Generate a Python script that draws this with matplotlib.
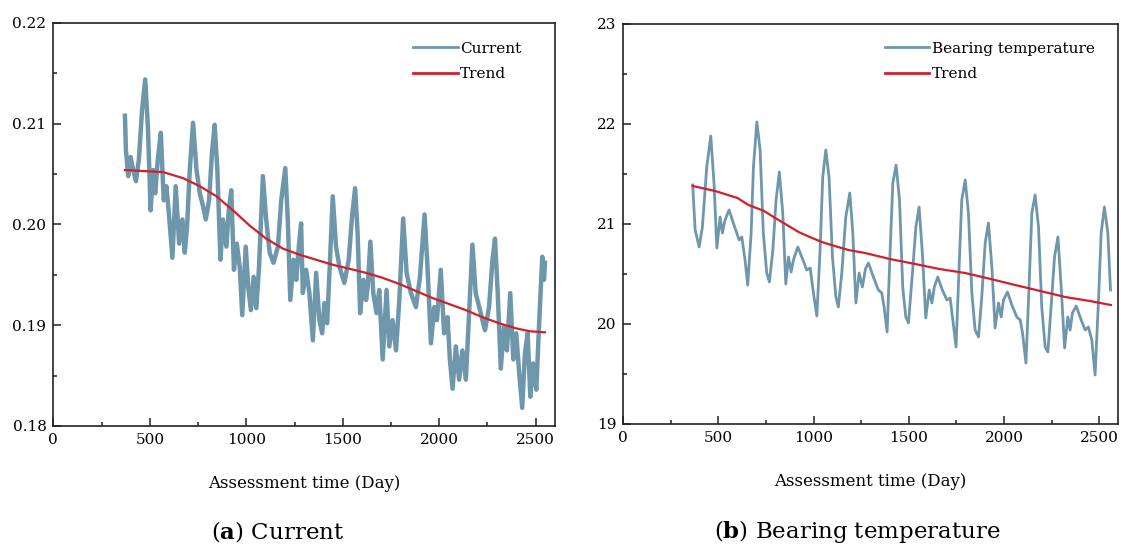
import matplotlib
matplotlib.use("Agg")
import matplotlib.pyplot as plt
from matplotlib.ticker import MultipleLocator

plt.rcParams["font.family"] = ["DejaVu Serif"]
plt.rcParams["mathtext.fontset"] = "custom"
plt.rcParams["mathtext.rm"] = "DejaVu Serif"
plt.rcParams["mathtext.bf"] = "DejaVu Serif:bold"

SIGNAL = "#6f97ab"
TREND = "#d0212a"

# (a) current signal
cur_day = [371, 376, 388, 400, 414, 428, 443, 460, 476, 490, 504, 517, 528, 541, 557,
           572, 586, 600, 617, 634, 652, 669, 681, 693, 707, 724, 742, 759, 776, 790,
           807, 822, 836, 850, 866, 879, 897, 909, 922, 936, 951, 966, 979, 997, 1010,
           1024, 1038, 1052, 1066, 1086, 1103, 1121, 1141, 1164, 1181, 1202, 1215, 1228,
           1245, 1259, 1272, 1284, 1293, 1310, 1327, 1345, 1362, 1379, 1393, 1405, 1419,
           1434, 1448, 1465, 1483, 1508, 1531, 1548, 1564, 1577, 1590, 1607, 1621, 1629,
           1643, 1658, 1675, 1689, 1707, 1727, 1741, 1758, 1776, 1793, 1813, 1831, 1853,
           1879, 1900, 1924, 1939, 1957, 1974, 1988, 2008, 2025, 2043, 2055, 2069, 2086,
           2103, 2120, 2138, 2155, 2172, 2189, 2215, 2237, 2258, 2276, 2289, 2303, 2319,
           2336, 2351, 2368, 2384, 2399, 2413, 2430, 2444, 2458, 2472, 2486, 2503, 2517,
           2534, 2543, 2548]
cur_val = [0.2108, 0.2074, 0.2048, 0.2067, 0.2054, 0.2043, 0.2064, 0.2114, 0.2144, 0.2097,
           0.2014, 0.2054, 0.2031, 0.2064, 0.2091, 0.2024, 0.2038, 0.2008, 0.1967, 0.2038,
           0.1981, 0.2005, 0.1972, 0.1998, 0.2054, 0.2101, 0.2054, 0.2031, 0.2018, 0.2005,
           0.2024, 0.2071, 0.2099, 0.2054, 0.1965, 0.2005, 0.1978, 0.2014, 0.2034, 0.1955,
           0.1981, 0.1958, 0.1910, 0.1978, 0.1938, 0.1915, 0.1948, 0.1917, 0.1958, 0.2048,
           0.2005, 0.1972, 0.1962, 0.1978, 0.2024, 0.2056, 0.2005, 0.1925, 0.1965, 0.1945,
           0.1978, 0.2001, 0.1932, 0.1955, 0.1932, 0.1885, 0.1952, 0.1905, 0.1892, 0.1922,
           0.1902, 0.1965, 0.2028, 0.1978, 0.1958, 0.1942, 0.1965, 0.2008, 0.2036, 0.1991,
           0.1912, 0.1945, 0.1925, 0.1938, 0.1983, 0.1932, 0.1912, 0.1935, 0.1866, 0.1935,
           0.1879, 0.1905, 0.1875, 0.1925, 0.2006, 0.1952, 0.1932, 0.1918, 0.1948, 0.2010,
           0.1958, 0.1882, 0.1918, 0.1905, 0.1955, 0.1892, 0.1908, 0.1866, 0.1837, 0.1879,
           0.1846, 0.1875, 0.1846, 0.1912, 0.1980, 0.1932, 0.1912, 0.1895, 0.1918, 0.1965,
           0.1986, 0.1932, 0.1857, 0.1899, 0.1875, 0.1932, 0.1866, 0.1892, 0.1856, 0.1818,
           0.1872, 0.1892, 0.1829, 0.1862, 0.1836, 0.1899, 0.1968, 0.1945, 0.1962]

cur_trend_day = [371, 470, 569, 672, 759, 845, 931, 1017, 1103, 1190, 1276, 1362, 1448,
                 1535, 1621, 1707, 1793, 1879, 1965, 2052, 2138, 2224, 2310, 2396, 2470, 2548]
cur_trend_val = [0.2054, 0.2053, 0.2052, 0.2046, 0.2038, 0.2028, 0.2014, 0.1999, 0.1986,
                 0.1976, 0.1970, 0.1965, 0.1960, 0.1956, 0.1952, 0.1947, 0.1941, 0.1934,
                 0.1927, 0.1921, 0.1915, 0.1908, 0.1902, 0.1897, 0.1894, 0.1893]

# (b) bearing temperature
tmp_day = [365, 378, 399, 416, 439, 460, 477, 492, 509, 521, 535, 556, 582, 609, 623, 640,
           654, 672, 684, 702, 719, 736, 754, 768, 786, 803, 820, 838, 854, 868, 882, 894,
           917, 938, 964, 982, 999, 1017, 1034, 1048, 1064, 1081, 1099, 1117, 1130, 1148,
           1169, 1190, 1206, 1222, 1239, 1256, 1272, 1288, 1314, 1340, 1358, 1370, 1386,
           1402, 1416, 1433, 1451, 1468, 1484, 1498, 1519, 1537, 1554, 1571, 1589, 1607,
           1621, 1634, 1652, 1676, 1700, 1717, 1731, 1748, 1764, 1778, 1796, 1813, 1831,
           1848, 1866, 1883, 1901, 1918, 1936, 1953, 1971, 1985, 1997, 2018, 2041, 2067,
           2085, 2097, 2115, 2132, 2146, 2163, 2181, 2198, 2216, 2230, 2247, 2265, 2283,
           2300, 2318, 2335, 2347, 2359, 2379, 2405, 2426, 2443, 2461, 2478, 2496, 2510,
           2527, 2545, 2559]
tmp_val = [21.39, 20.94, 20.77, 20.97, 21.57, 21.88, 21.41, 20.76, 21.07, 20.91, 21.04,
           21.14, 20.99, 20.84, 20.87, 20.64, 20.39, 20.91, 21.57, 22.02, 21.74, 20.91,
           20.51, 20.42, 20.74, 21.24, 21.52, 21.11, 20.40, 20.67, 20.52, 20.64, 20.77,
           20.67, 20.54, 20.56, 20.31, 20.08, 20.74, 21.47, 21.74, 21.47, 20.67, 20.27,
           20.17, 20.51, 21.07, 21.31, 20.91, 20.21, 20.51, 20.37, 20.55, 20.61, 20.47,
           20.34, 20.31, 20.17, 19.92, 20.74, 21.41, 21.59, 21.24, 20.37, 20.07, 20.01,
           20.51, 20.97, 21.17, 20.71, 20.06, 20.34, 20.21, 20.37, 20.47, 20.34, 20.24,
           20.26, 20.04, 19.77, 20.57, 21.24, 21.44, 21.11, 20.31, 19.94, 19.87, 20.27,
           20.81, 21.01, 20.57, 19.96, 20.21, 20.07, 20.24, 20.32, 20.19, 20.07, 20.04,
           19.91, 19.61, 20.41, 21.11, 21.29, 20.97, 20.17, 19.77, 19.72, 20.17, 20.67,
           20.87, 20.37, 19.76, 20.07, 19.94, 20.11, 20.18, 20.04, 19.94, 19.97, 19.84,
           19.49, 20.24, 20.91, 21.17, 20.91, 20.34]

tmp_trend_day = [365, 483, 600, 658, 740, 798, 860, 921, 980, 1043, 1110, 1183, 1270,
                 1400, 1533, 1660, 1795, 1930, 2058, 2190, 2321, 2450, 2561]
tmp_trend_val = [21.38, 21.33, 21.26, 21.19, 21.13, 21.06, 20.99, 20.92, 20.87, 20.82,
                 20.78, 20.74, 20.71, 20.65, 20.60, 20.55, 20.51, 20.45, 20.39, 20.33,
                 20.27, 20.23, 20.19]

fig = plt.figure(figsize=(11.21, 5.5), dpi=100)
ax1 = fig.add_axes([0.0476, 0.2255, 0.4475, 0.7327])
ax2 = fig.add_axes([0.5559, 0.2291, 0.4417, 0.7273])


def style(ax, major, minor):
    ax.set_xlim(0, 2600)
    ax.xaxis.set_major_locator(MultipleLocator(500))
    ax.xaxis.set_minor_locator(MultipleLocator(250))
    ax.yaxis.set_major_locator(MultipleLocator(major))
    ax.yaxis.set_minor_locator(MultipleLocator(minor))
    ax.tick_params(which="both", direction="in", top=False, right=False,
                   labelsize=11, width=1.1, color="#222222")
    ax.tick_params(which="major", length=5.5, pad=5)
    ax.tick_params(which="minor", length=3)
    for s in ax.spines.values():
        s.set_linewidth(1.2)
        s.set_color("#222222")
    ax.set_xlabel("Assessment time (Day)", fontsize=12, labelpad=20)


def legend(ax, anchor):
    leg = ax.legend(loc="upper right", bbox_to_anchor=anchor, frameon=False,
                    fontsize=11, handlelength=2.9, handletextpad=0.15, labelspacing=0.75)
    for ln in leg.get_lines():
        ln.set_linewidth(2.0)


ax1.plot(cur_day, cur_val, color=SIGNAL, lw=3.2, label="Current")
ax1.plot(cur_trend_day, cur_trend_val, color=TREND, lw=1.6, label="Trend")
ax1.set_ylim(0.18, 0.22)
style(ax1, 0.01, 0.005)
ax1.yaxis.set_major_formatter(lambda v, p: f"{v:.2f}")
legend(ax1, (0.96, 0.988))

ax2.plot(tmp_day, tmp_val, color=SIGNAL, lw=2.0, label="Bearing temperature")
ax2.plot(tmp_trend_day, tmp_trend_val, color=TREND, lw=1.6, label="Trend")
ax2.set_ylim(19, 23)
style(ax2, 1, 0.5)
legend(ax2, (0.98, 0.99))

fig.text(0.248, 0.0345, "($\\mathbf{a}$) Current", ha="center", va="center", fontsize=16.5)
fig.text(0.7645, 0.0345, "($\\mathbf{b}$) Bearing temperature", ha="center", va="center", fontsize=16.5)

fig.savefig("out.png", dpi=100)
